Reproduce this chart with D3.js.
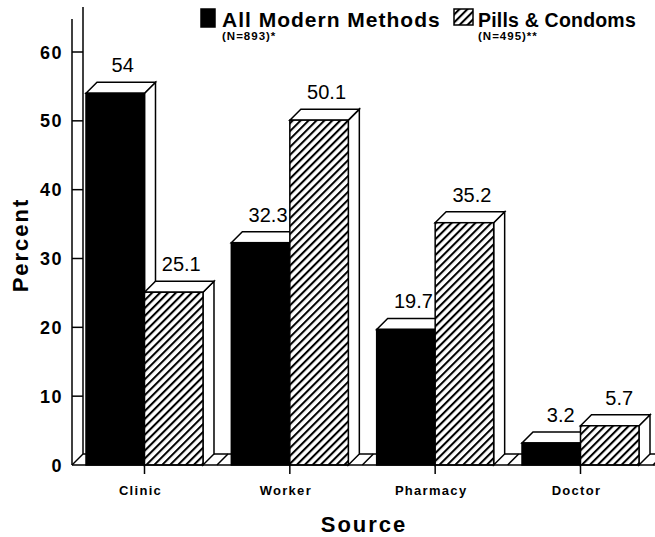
<!DOCTYPE html>
<html>
<head>
<meta charset="utf-8">
<script src="https://cdn.jsdelivr.net/npm/d3@7"></script>
<style>
  body { margin: 0; background: #fff; }
  text { font-family: "Liberation Sans", Arial, Helvetica, sans-serif; fill: #000; }
</style>
</head>
<body>
<svg id="chart" width="655" height="537"></svg>
<script>
// Source of modern contraceptive supply, by method group (percent)
const categories = ["Clinic", "Worker", "Pharmacy", "Doctor"];
const seriesNames = ["All Modern Methods", "Pills & Condoms"];
const seriesNotes = ["(N=893)*", "(N=495)**"];
const allModern = [54, 32.3, 19.7, 3.2];
const pillsCondoms = [25.1, 50.1, 35.2, 5.7];
const yTicks = [0, 10, 20, 30, 40, 50, 60];

const seriesValues = [allModern, pillsCondoms];
const svg = d3.select("#chart");

// depth of the pseudo-3D extrusion
const dx = 11, dy = 11;

const y = d3.scaleLinear().domain([0, 60]).range([465, 52]);
const x0 = d3.scaleBand().domain(categories).range([86, 639]).paddingInner(0.195).paddingOuter(0);
const x1 = d3.scaleBand().domain(seriesNames).range([0, x0.bandwidth()]).padding(0);

const base = y(0);
const wallX = 72;

// hatch fill for the second series
const defs = svg.append("defs");
const pat = defs.append("pattern")
  .attr("id", "hatch")
  .attr("patternUnits", "userSpaceOnUse")
  .attr("width", 5.6).attr("height", 5.6)
  .attr("patternTransform", "rotate(45)");
pat.append("rect").attr("width", 5.6).attr("height", 5.6).attr("fill", "#fff");
pat.append("line").attr("x1", 1).attr("y1", 0).attr("x2", 1).attr("y2", 5.6)
  .attr("stroke", "#000").attr("stroke-width", 2.1);

const fills = ["#000", "url(#hatch)"];

// ---- back wall (y axis) ----
const wall = svg.append("g").attr("stroke", "#000").attr("stroke-width", 1.5).attr("fill", "none");
wall.append("line").attr("x1", wallX).attr("y1", 19).attr("x2", wallX).attr("y2", base);
wall.append("line").attr("x1", wallX + dx).attr("y1", 7).attr("x2", wallX + dx).attr("y2", base - dy);
wall.append("line").attr("x1", wallX).attr("y1", base).attr("x2", wallX + dx).attr("y2", base - dy);
wall.selectAll(".tick").data(yTicks.filter(t => t > 0)).join("line")
  .attr("x1", wallX).attr("x2", wallX + dx)
  .attr("y1", d => y(d)).attr("y2", d => y(d));

svg.append("g").selectAll("text").data(yTicks).join("text")
  .attr("x", 63).attr("y", d => y(d) + 6.5)
  .attr("text-anchor", "end")
  .style("font-size", "18px").style("font-weight", "bold").style("letter-spacing", "1.5px")
  .text(d => d);

// ---- floor ----
const floor = svg.append("g").attr("stroke", "#000").attr("stroke-width", 1.5).attr("fill", "none");
floor.append("line").attr("x1", wallX + dx).attr("y1", base - dy).attr("x2", 655).attr("y2", base - dy);
categories.forEach(c => {
  const gx = x0(c) + x0.bandwidth() + dx + 3;
  floor.append("line").attr("x1", gx).attr("y1", base).attr("x2", gx + dx).attr("y2", base - dy);
});

// ---- bars ----
const barsG = svg.append("g");
categories.forEach((c, i) => {
  seriesNames.forEach((s, k) => {
    const v = seriesValues[k][i];
    const bx = x0(c) + x1(s);
    const w = x1.bandwidth();
    const top = y(v);
    const g = barsG.append("g").attr("stroke", "#000").attr("stroke-width", 1.5).attr("stroke-linejoin", "miter");
    // side face
    g.append("polygon")
      .attr("points", [[bx + w, top], [bx + w + dx, top - dy], [bx + w + dx, base - dy], [bx + w, base]].map(p => p.join(",")).join(" "))
      .attr("fill", "#fff");
    // top face
    g.append("polygon")
      .attr("points", [[bx, top], [bx + w, top], [bx + w + dx, top - dy], [bx + dx, top - dy]].map(p => p.join(",")).join(" "))
      .attr("fill", "#fff");
    // front face
    g.append("rect")
      .attr("x", bx).attr("y", top).attr("width", w).attr("height", base - top)
      .attr("fill", fills[k]);
    // value label
    barsG.append("text")
      .attr("x", bx + (w + dx) / 2 + (c === "Doctor" ? 4 : 2))
      .attr("y", top - dy - 10)
      .attr("text-anchor", "middle")
      .style("font-size", "20px")
      .text(v);
  });
});

// ---- x axis ----
const xAxis = svg.append("g").attr("stroke", "#000").attr("stroke-width", 1.5);
xAxis.append("line").attr("x1", wallX).attr("y1", base).attr("x2", 655).attr("y2", base);
xAxis.selectAll(".tk").data(categories).join("line")
  .attr("x1", c => x0(c) + x1.bandwidth()).attr("x2", c => x0(c) + x1.bandwidth())
  .attr("y1", base).attr("y2", base + 9);

svg.append("g").selectAll("text").data(categories).join("text")
  .attr("x", c => x0(c) + x1.bandwidth() - 4)
  .attr("y", 495)
  .attr("text-anchor", "middle")
  .style("font-size", "13px").style("font-weight", "bold").style("letter-spacing", "1.3px")
  .text(c => c);

// axis titles
svg.append("text")
  .attr("x", 364).attr("y", 532)
  .attr("text-anchor", "middle")
  .style("font-size", "22px").style("font-weight", "bold").style("letter-spacing", "2px")
  .text("Source");

svg.append("text")
  .attr("transform", "translate(28,245) rotate(-90)")
  .attr("text-anchor", "middle")
  .style("font-size", "22px").style("font-weight", "bold").style("letter-spacing", "2px")
  .text("Percent");

// ---- legend ----
const legendX = [201, 454];
const legendFont = [21, 19.5];
const legendSpacing = [1, 0.2];
const lg = svg.append("g");
seriesNames.forEach((s, k) => {
  lg.append("rect")
    .attr("x", legendX[k]).attr("y", 9).attr("width", k === 0 ? 14 : 19).attr("height", k === 0 ? 18 : 16)
    .attr("fill", fills[k]).attr("stroke", "#000").attr("stroke-width", 1.5);
  const tx = legendX[k] + (k === 0 ? 21 : 24);
  lg.append("text")
    .attr("x", tx).attr("y", 27)
    .style("font-size", legendFont[k] + "px").style("font-weight", "bold").style("letter-spacing", legendSpacing[k] + "px")
    .text(s);
  lg.append("text")
    .attr("x", tx).attr("y", 40)
    .style("font-size", "11.5px").style("font-weight", "bold").style("letter-spacing", "1px")
    .text(seriesNotes[k]);
});
</script>
</body>
</html>
